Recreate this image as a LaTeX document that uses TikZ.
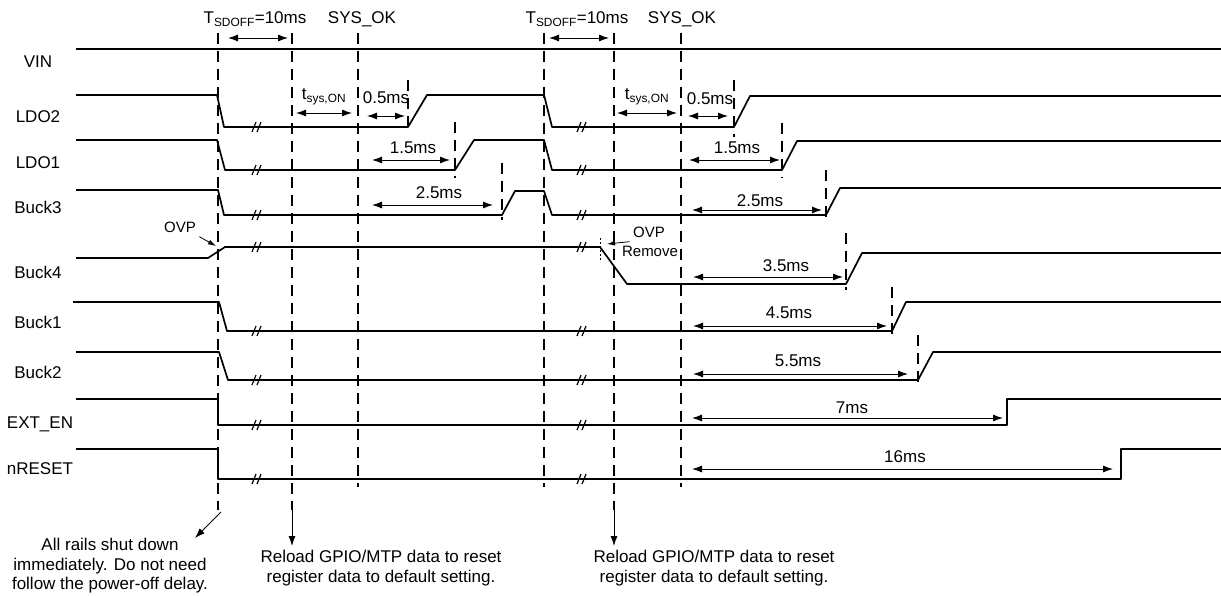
\documentclass[tikz,border=0pt]{standalone}
\usepackage{fontspec}
\setmainfont{Liberation Sans}
\usetikzlibrary{arrows.meta}
\tikzset{
  sigline/.style={line width=1.7pt, line join=round},
  guideline/.style={line width=1.5pt, dash pattern=on 11pt off 7pt},
  dimarrow/.style={line width=0.9pt, {Latex[length=10pt,width=7pt]}-{Latex[length=10pt,width=7pt]}},
  notearrow/.style={line width=0.9pt, -{Latex[length=10pt,width=7pt]}},
  smallarrow/.style={line width=0.8pt, -{Latex[length=8pt,width=5pt]}},
}
% break symbol on a low rail
\newcommand{\brkmark}[2]{%
  \draw[line width=1.2pt] ({#1-5},{#2+5}) -- ({#1-1},{#2-5}) ({#1},{#2+5}) -- ({#1+4},{#2-5});}

\begin{document}
\begin{tikzpicture}[x=1pt, y=-1pt, font=\fontsize{17}{19.5}\selectfont]
  \useasboundingbox (0,0) rectangle (1221,596);
  % Signal names
  \foreach \nm/\txt/\x/\y in {vin/VIN/38/68, ldo2/LDO2/38/123, ldo1/LDO1/38/169,
    buckc/Buck3/38/214, buckd/Buck4/38/278, bucka/Buck1/38/328, buckb/Buck2/38/378,
    exten/EXT\_EN/40/428, nreset/nRESET/40/474}
    \node[anchor=base] (\nm) at (\x,\y) {\txt};
  % Waveforms
  \draw[sigline] (76,49) -- (1221,49);
  \draw[sigline] (76,95) -- (217,95) -- (224,127) -- (408,127) -- (427,95) -- (544,95)
    -- (552,127) -- (734,127) -- (750,96) -- (1221,96);
  \draw[sigline] (76,140) -- (217,140) -- (225,170) -- (455,170) -- (474,140) -- (544,140)
    -- (552,170) -- (782,170) -- (797,141) -- (1221,141);
  \draw[sigline] (76,190) -- (218,190) -- (224,215) -- (502,215) -- (515,191) -- (544,191)
    -- (552,215) -- (826,215) -- (840,188) -- (1221,188);
  \draw[sigline] (76,258) -- (208,258) -- (225,247) -- (600,247) -- (627,284) -- (846,284)
    -- (862,253) -- (1221,253);
  \draw[sigline] (73,302) -- (219,302) -- (227,331) -- (892,331) -- (906,302) -- (1221,302);
  \draw[sigline] (76,352) -- (219,352) -- (228,380) -- (918,380) -- (933,352) -- (1221,352);
  \draw[sigline] (76,399) -- (218,399) -- (218,425) -- (1007,425) -- (1007,399) -- (1221,399);
  \draw[sigline] (76,449) -- (218,449) -- (218,479) -- (1121,479) -- (1121,449) -- (1221,449);
  \foreach \y in {127,170,215,247,331,380,425,479} {\brkmark{257}{\y}\brkmark{582}{\y}}
  % Timing guides
  \foreach \x/\yb in {218/510, 292/510, 358/487, 544/487, 614/510, 681/487}
    \draw[guideline] (\x,33) -- (\x,\yb);
  \foreach \x/\ya/\yb in {408/80/133, 455/122/178, 502/163/220, 734/80/137, 782/123/178,
    826/170/222, 846/233/290, 892/287/340, 918/335/388}
    \draw[guideline] (\x,\ya) -- (\x,\yb);
  \draw[line width=0.8pt, dash pattern=on 2pt off 2pt] (600,238) -- (600,262);
  % Top labels
  \node[anchor=base] (sdoffA) at (255,24) {T\textsubscript{SDOFF}=10ms};
  \node[anchor=base] (sysokA) at (362,24) {SYS\_OK};
  \node[anchor=base] (sdoffB) at (577,24) {T\textsubscript{SDOFF}=10ms};
  \node[anchor=base] (sysokB) at (682,24) {SYS\_OK};
  \draw[dimarrow] (228,38) -- (288,38);
  \draw[dimarrow] (549,38) -- (609,38);
  \node[anchor=base] (tsysA) at (324,100) {t\textsubscript{sys,ON}};
  \node[anchor=base] (tsysB) at (647,100) {t\textsubscript{sys,ON}};
  \draw[dimarrow] (296,113) -- (352,113);
  \draw[dimarrow] (617,113) -- (677,113);
  % Delays
  \foreach \nm/\txt/\x/\yt/\xa/\xb/\ya in {
    halfA/0.5ms/386/104/367/405/116, halfB/0.5ms/710/105/688/728/116,
    oneA/1.5ms/413/154/372/450/160, oneB/1.5ms/737/154/689/780/160,
    twoA/2.5ms/439/199/372/493/205, twoB/2.5ms/760/207/692/822/210,
    three/3.5ms/786/271/693/843/277, four/4.5ms/789/318/693/887/326,
    five/5.5ms/798/366/693/908/374, seven/7ms/852/413/692/1003/418,
    sixteen/16ms/905/462/692/1113/469}
  {
    \node[anchor=base] (\nm) at (\x,\yt) {\txt};
    \draw[dimarrow] (\xa,\ya) -- (\xb,\ya);
  }
  % OVP
  \node[anchor=base, font=\fontsize{15}{18}\selectfont] (ovp) at (180,233) {OVP};
  \draw[smallarrow] (ovp.south east) -- (216,246);
  \node[anchor=base, font=\fontsize{15}{18}\selectfont] (ovprm) at (649,238) {OVP};
  \node[anchor=base, font=\fontsize{15}{18}\selectfont] (remove) at (650,257) {Remove};
  \draw[smallarrow] (ovprm.south west) -- (607,244);
  % Notes
  \node[align=center] (shutdown) at (110,566) {All rails shut down\\immediately. Do not need\\follow the power-off delay.};
  \node[align=center] (reloadA) at (381,568) {Reload GPIO/MTP data to reset\\register data to default setting.};
  \node[align=center] (reloadB) at (714,568) {Reload GPIO/MTP data to reset\\register data to default setting.};
  \draw[notearrow] (221,512) -- (195,538);
  \draw[notearrow] (292,510) -- (292,546);
  \draw[notearrow] (614,510) -- (614,546);
\end{tikzpicture}
\end{document}
